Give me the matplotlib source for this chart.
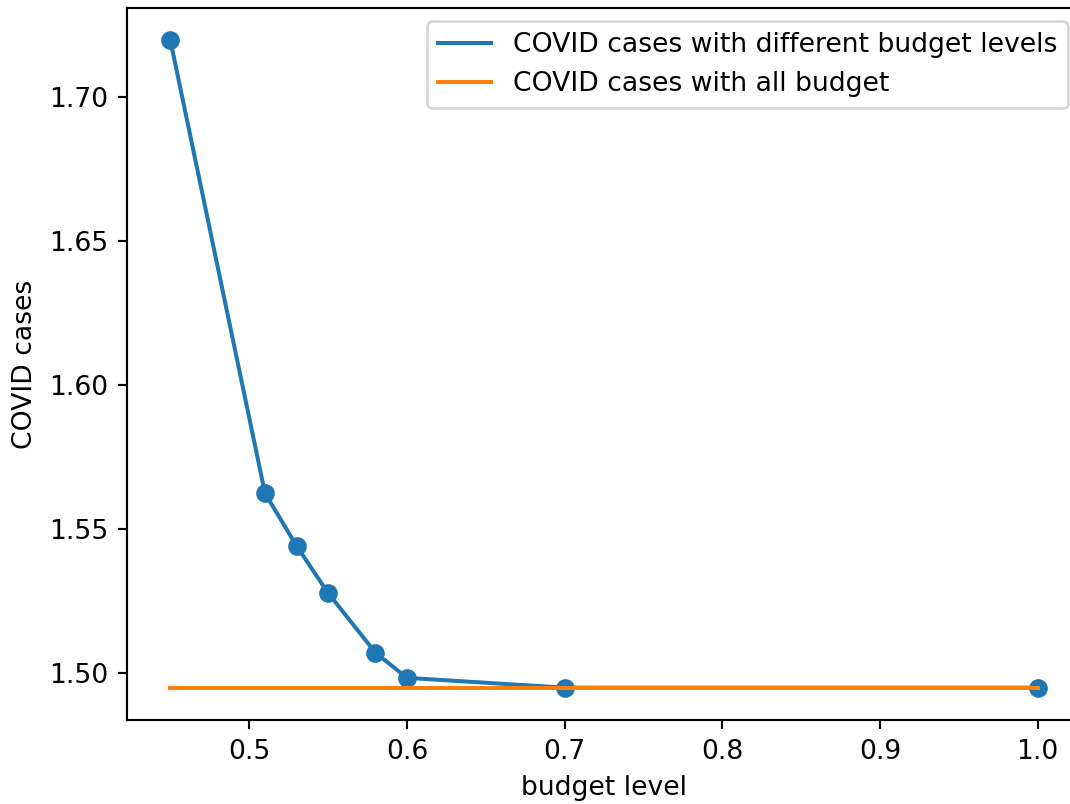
import matplotlib
matplotlib.use('Agg')
from matplotlib import pyplot as plt

budget_levels = [0.45, 0.51, 0.53, 0.55, 0.58, 0.60, 0.70, 1.0]
covid_cases = [1.7198, 1.5624, 1.5441, 1.5277, 1.5070, 1.4982, 1.4948, 1.4948]
all_budget_cases = 1.4948

fig = plt.figure(figsize=(1070 / 192, 804 / 192), dpi=192)
# right edge of the axes runs past the picture, as in the cropped original
fig.subplots_adjust(left=127 / 1070, right=1081 / 1070, top=1 - 8 / 804, bottom=1 - 720 / 804)

plt.plot(budget_levels, covid_cases, label='COVID cases with different budget levels')
plt.scatter(budget_levels, covid_cases)
plt.plot([budget_levels[0], budget_levels[-1]], [all_budget_cases, all_budget_cases],
         label='COVID cases with all budget')

plt.legend()
plt.xlabel('budget level')
plt.ylabel('COVID cases')
plt.savefig('out.png')
